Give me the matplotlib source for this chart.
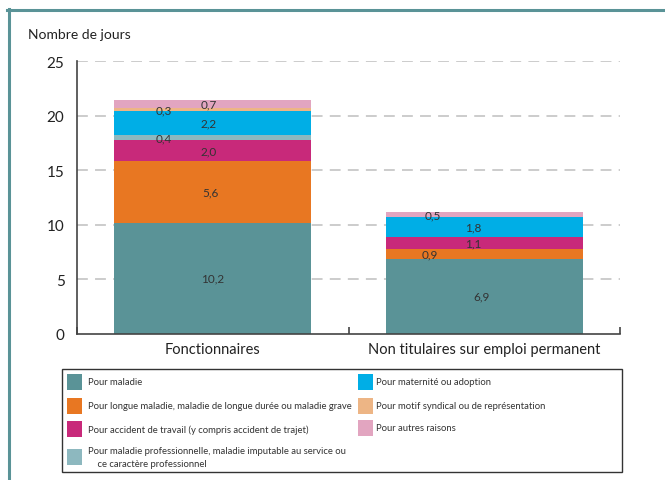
import matplotlib.pyplot as plt
from matplotlib.patches import Rectangle
from matplotlib.lines import Line2D

plt.rcParams['font.family'] = ['Lato', 'DejaVu Sans']

groups = ['Fonctionnaires', 'Non titulaires sur emploi permanent']
motifs = ['Pour maladie',
          'Pour longue maladie, maladie de longue durée ou maladie grave',
          'Pour accident de travail (y compris accident de trajet)',
          'Pour maladie professionnelle, maladie imputable au service ou\n    ce caractère professionnel',
          'Pour maternité ou adoption',
          'Pour motif syndical ou de représentation',
          'Pour autres raisons']
fonctionnaires = [10.2, 5.6, 2.0, 0.4, 2.2, 0.3, 0.7]
non_titulaires = [6.9, 0.9, 1.1, 0.0, 1.8, 0.0, 0.5]
colors = ['#5a9397', '#e87722', '#c8297a', '#8db8bf', '#00aee6', '#edb585', '#e2a5c0']

# horizontal shift of the value labels inside each bar
label_shift = [[0.0, -0.01, -0.015, -0.18, -0.015, -0.18, -0.015],
               [-0.01, -0.2, -0.04, 0.0, -0.04, 0.0, -0.19]]

fig = plt.figure(figsize=(6.65, 4.81), dpi=100)
ax = fig.add_axes([77/665, 1-335/481, 543/665, 273/481])

series = [fonctionnaires, non_titulaires]
centers = [0.5, 1.5]
for gi, vals in enumerate(series):
    bottom = 0
    for si, v in enumerate(vals):
        if v > 0:
            ax.bar(centers[gi], v, width=0.725, bottom=bottom, color=colors[si], zorder=2)
            ax.text(centers[gi] + label_shift[gi][si], bottom + v/2, f'{v:.1f}'.replace('.', ','),
                    ha='center', va='center', fontsize=8.5, color='#333333', zorder=3)
        bottom += v

ax.set_xlim(0, 2)
ax.set_ylim(0, 25)
ax.set_yticks([0, 5, 10, 15, 20, 25])
ax.tick_params(axis='y', length=0, labelsize=11, pad=9, colors='#222222')
for lbl in ax.get_yticklabels():
    lbl.set_va('center_baseline')
ax.set_xticks([0, 1, 2])
ax.set_xticklabels([])
ax.tick_params(axis='x', direction='in', length=5, width=1.2, color='#444444')
ax.set_xticks(centers, minor=True)
ax.set_xticklabels(groups, minor=True, fontsize=10.5, color='#222222')
ax.tick_params(axis='x', which='minor', length=0, pad=6)
for y in [5, 10, 15, 20, 25]:
    ax.axhline(y, color='#c8c8c8', lw=1.3, ls=(0, (6, 4)), zorder=1)
for s in ['top', 'right']:
    ax.spines[s].set_visible(False)
for s in ['left', 'bottom']:
    ax.spines[s].set_color('#444444')
    ax.spines[s].set_linewidth(1.2)

fig.text(28/665, 1-35/481, 'Nombre de jours', fontsize=10, color='#222222', va='center')

# frame lines
fig.add_artist(Line2D([7/665, 1], [1-10.5/481]*2, color='#5a9397', lw=2.2))
fig.add_artist(Line2D([8.5/665]*2, [0, 1-10/481], color='#5a9397', lw=2.2))

# legend box
fig.add_artist(Rectangle((62/665, 1-473/481), 560/665, 103/481, transform=fig.transFigure,
                         fill=False, edgecolor='#333333', lw=1))
rows_y = [383, 407, 430, 458, 383, 407, 429]
for i, lab in enumerate(motifs):
    mx = 67 if i < 4 else 358
    tx = 88 if i < 4 else 376
    fig.add_artist(Rectangle((mx/665, 1-(rows_y[i]+8)/481), 15/665, 16/481, transform=fig.transFigure,
                             facecolor=colors[i], edgecolor='none'))
    fig.text(tx/665, 1-rows_y[i]/481, lab, fontsize=6.8, color='#333333',
             va='center', linespacing=1.5)

fig.savefig('out.png', dpi=100)
